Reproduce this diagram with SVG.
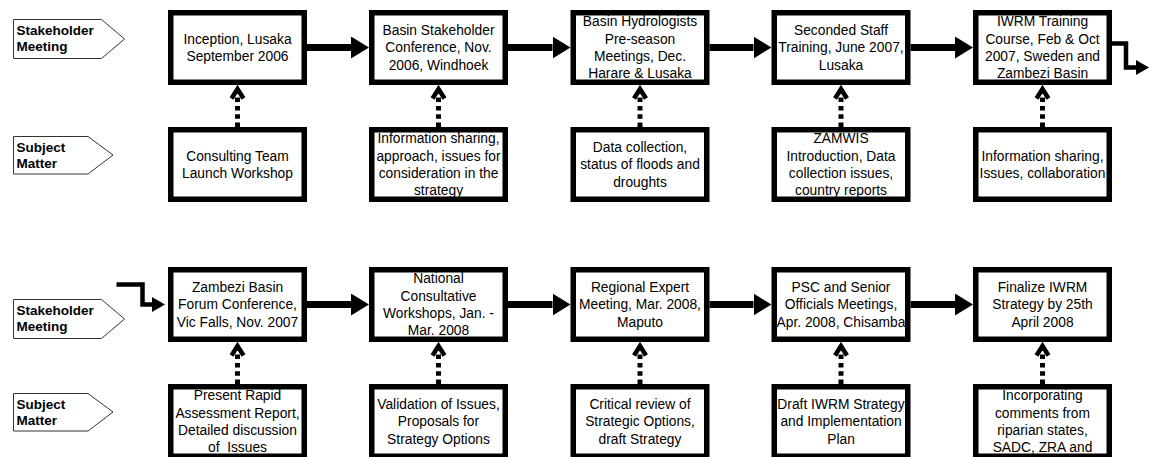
<svg xmlns="http://www.w3.org/2000/svg" width="1149" height="457" viewBox="0 0 1149 457">
<style>
.box{fill:#fff;stroke:#000;stroke-width:5.5}
.t{font-family:"Liberation Sans",Arial,sans-serif;font-size:13.8px;fill:#000;text-anchor:middle}
.lbl{fill:#fff;stroke:#333;stroke-width:1}
.lt{font-family:"Liberation Sans",Arial,sans-serif;font-size:13.5px;font-weight:bold;fill:#000}
.flow{stroke:#000;stroke-width:7;fill:none;marker-end:url(#big)}
.elbow{stroke:#000;stroke-width:4.5;fill:none;stroke-linejoin:miter;marker-end:url(#small)}
.dot{stroke:#000;stroke-width:5;stroke-dasharray:4.5 3.8;fill:none}
.chev{stroke:#000;stroke-width:4.5;fill:none;stroke-linejoin:miter}
</style>
<defs>
<marker id="big" markerUnits="userSpaceOnUse" viewBox="0 0 18 22" refX="0" refY="11" markerWidth="18" markerHeight="22" orient="auto"><path d="M0,0 L18,11 L0,22 Z" fill="#000"/></marker>
<marker id="small" markerUnits="userSpaceOnUse" viewBox="0 0 13 15" refX="0" refY="7.5" markerWidth="13" markerHeight="15" orient="auto"><path d="M0,0 L13,7.5 L0,15 Z" fill="#000"/></marker>
</defs>
<rect width="1149" height="457" fill="#fff"/>

<g id="label-stakeholder-1"><polygon class="lbl" points="13.5,19.5 101.5,19.5 124.5,39 101.5,58.5 13.5,58.5"/><text class="lt"><tspan x="16.5" y="34.5">Stakeholder</tspan><tspan x="16.5" y="51">Meeting</tspan></text></g>
<g id="label-subject-1"><polygon class="lbl" points="13.5,136.5 88,136.5 113,155 88,174 13.5,174"/><text class="lt"><tspan x="16.5" y="151.5">Subject</tspan><tspan x="16.5" y="168">Matter</tspan></text></g>
<g id="label-stakeholder-2"><polygon class="lbl" points="13.5,299.5 101.5,299.5 124.5,319 101.5,338.5 13.5,338.5"/><text class="lt"><tspan x="16.5" y="314.5">Stakeholder</tspan><tspan x="16.5" y="331">Meeting</tspan></text></g>
<g id="label-subject-2"><polygon class="lbl" points="13.5,393.5 88,393.5 113,412 88,431 13.5,431"/><text class="lt"><tspan x="16.5" y="408.5">Subject</tspan><tspan x="16.5" y="425">Matter</tspan></text></g>

<g id="connectors">
<line class="flow" x1="307" y1="47.5" x2="351" y2="47.5"/>
<line class="flow" x1="508" y1="47.5" x2="552.5" y2="47.5"/>
<line class="flow" x1="709.5" y1="47.5" x2="753.5" y2="47.5"/>
<line class="flow" x1="910.5" y1="47.5" x2="955" y2="47.5"/>
<path class="elbow" d="M1112,43.5 H1126 V67.5 H1136"/>
<path class="elbow" d="M116.5,284.5 H142.5 V304.5 H152"/>
<line class="flow" x1="307" y1="304.5" x2="351" y2="304.5"/>
<line class="flow" x1="508" y1="304.5" x2="552.5" y2="304.5"/>
<line class="flow" x1="709.5" y1="304.5" x2="753.5" y2="304.5"/>
<line class="flow" x1="910.5" y1="304.5" x2="955" y2="304.5"/>
<line class="dot" x1="237.5" y1="127" x2="237.5" y2="91"/><polyline class="chev" points="231.5,98.5 237.5,89 243.5,98.5"/>
<line class="dot" x1="438.5" y1="127" x2="438.5" y2="91"/><polyline class="chev" points="432.5,98.5 438.5,89 444.5,98.5"/>
<line class="dot" x1="640" y1="127" x2="640" y2="91"/><polyline class="chev" points="634,98.5 640,89 646,98.5"/>
<line class="dot" x1="841" y1="127" x2="841" y2="91"/><polyline class="chev" points="835,98.5 841,89 847,98.5"/>
<line class="dot" x1="1042.5" y1="127" x2="1042.5" y2="91"/><polyline class="chev" points="1036.5,98.5 1042.5,89 1048.5,98.5"/>
<line class="dot" x1="237.5" y1="384" x2="237.5" y2="348"/><polyline class="chev" points="231.5,355.5 237.5,346 243.5,355.5"/>
<line class="dot" x1="438.5" y1="384" x2="438.5" y2="348"/><polyline class="chev" points="432.5,355.5 438.5,346 444.5,355.5"/>
<line class="dot" x1="640" y1="384" x2="640" y2="348"/><polyline class="chev" points="634,355.5 640,346 646,355.5"/>
<line class="dot" x1="841" y1="384" x2="841" y2="348"/><polyline class="chev" points="835,355.5 841,346 847,355.5"/>
<line class="dot" x1="1042.5" y1="384" x2="1042.5" y2="348"/><polyline class="chev" points="1036.5,355.5 1042.5,346 1048.5,355.5"/>
</g>

<g id="meeting-1"><rect class="box" x="170.75" y="12.75" width="133.5" height="69.5"/><text class="t"><tspan x="237.5" y="43.5">Inception, Lusaka</tspan><tspan x="237.5" y="60.9">September 2006</tspan></text></g>
<g id="meeting-2"><rect class="box" x="371.75" y="12.75" width="133.5" height="69.5"/><text class="t"><tspan x="438.5" y="34.8">Basin Stakeholder</tspan><tspan x="438.5" y="52.2">Conference, Nov.</tspan><tspan x="438.5" y="69.6">2006, Windhoek</tspan></text></g>
<g id="meeting-3"><rect class="box" x="573.25" y="12.75" width="133.5" height="69.5"/><text class="t"><tspan x="640" y="26.1">Basin Hydrologists</tspan><tspan x="640" y="43.5">Pre-season</tspan><tspan x="640" y="60.9">Meetings, Dec.</tspan><tspan x="640" y="78.3">Harare &amp; Lusaka</tspan></text></g>
<g id="meeting-4"><rect class="box" x="774.25" y="12.75" width="133.5" height="69.5"/><text class="t"><tspan x="841" y="34.8">Seconded Staff</tspan><tspan x="841" y="52.2">Training, June 2007,</tspan><tspan x="841" y="69.6">Lusaka</tspan></text></g>
<g id="meeting-5"><rect class="box" x="975.75" y="12.75" width="133.5" height="69.5"/><text class="t"><tspan x="1042.5" y="26.1">IWRM Training</tspan><tspan x="1042.5" y="43.5">Course, Feb &amp; Oct</tspan><tspan x="1042.5" y="60.9">2007, Sweden and</tspan><tspan x="1042.5" y="78.3">Zambezi Basin</tspan></text></g>

<g id="subject-1"><rect class="box" x="170.75" y="129.75" width="133.5" height="69.5"/><text class="t"><tspan x="237.5" y="160.5">Consulting Team</tspan><tspan x="237.5" y="177.9">Launch Workshop</tspan></text></g>
<g id="subject-2"><rect class="box" x="371.75" y="129.75" width="133.5" height="69.5"/><text class="t"><tspan x="438.5" y="143.1">Information sharing,</tspan><tspan x="438.5" y="160.5">approach, issues for</tspan><tspan x="438.5" y="177.9">consideration in the</tspan><tspan x="438.5" y="195.3">strategy</tspan></text></g>
<g id="subject-3"><rect class="box" x="573.25" y="129.75" width="133.5" height="69.5"/><text class="t"><tspan x="640" y="151.8">Data collection,</tspan><tspan x="640" y="169.2">status of floods and</tspan><tspan x="640" y="186.6">droughts</tspan></text></g>
<g id="subject-4"><rect class="box" x="774.25" y="129.75" width="133.5" height="69.5"/><text class="t"><tspan x="841" y="143.1">ZAMWIS</tspan><tspan x="841" y="160.5">Introduction, Data</tspan><tspan x="841" y="177.9">collection issues,</tspan><tspan x="841" y="195.3">country reports</tspan></text></g>
<g id="subject-5"><rect class="box" x="975.75" y="129.75" width="133.5" height="69.5"/><text class="t"><tspan x="1042.5" y="160.5">Information sharing,</tspan><tspan x="1042.5" y="177.9">Issues, collaboration</tspan></text></g>

<g id="meeting-6"><rect class="box" x="170.75" y="269.75" width="133.5" height="69.5"/><text class="t"><tspan x="237.5" y="291.8">Zambezi Basin</tspan><tspan x="237.5" y="309.2">Forum Conference,</tspan><tspan x="237.5" y="326.6">Vic Falls, Nov. 2007</tspan></text></g>
<g id="meeting-7"><rect class="box" x="371.75" y="269.75" width="133.5" height="69.5"/><text class="t"><tspan x="438.5" y="283.1">National</tspan><tspan x="438.5" y="300.5">Consultative</tspan><tspan x="438.5" y="317.9">Workshops, Jan. -</tspan><tspan x="438.5" y="335.3">Mar. 2008</tspan></text></g>
<g id="meeting-8"><rect class="box" x="573.25" y="269.75" width="133.5" height="69.5"/><text class="t"><tspan x="640" y="291.8">Regional Expert</tspan><tspan x="640" y="309.2">Meeting, Mar. 2008,</tspan><tspan x="640" y="326.6">Maputo</tspan></text></g>
<g id="meeting-9"><rect class="box" x="774.25" y="269.75" width="133.5" height="69.5"/><text class="t"><tspan x="841" y="291.8">PSC and Senior</tspan><tspan x="841" y="309.2">Officials Meetings,</tspan><tspan x="841" y="326.6">Apr. 2008, Chisamba</tspan></text></g>
<g id="meeting-10"><rect class="box" x="975.75" y="269.75" width="133.5" height="69.5"/><text class="t"><tspan x="1042.5" y="291.8">Finalize IWRM</tspan><tspan x="1042.5" y="309.2">Strategy by 25th</tspan><tspan x="1042.5" y="326.6">April 2008</tspan></text></g>

<g id="subject-6"><rect class="box" x="170.75" y="386.75" width="133.5" height="69.5"/><text class="t"><tspan x="237.5" y="400.1">Present Rapid</tspan><tspan x="237.5" y="417.5">Assessment Report,</tspan><tspan x="237.5" y="434.9">Detailed discussion</tspan><tspan x="237.5" y="452.3" xml:space="preserve">of  Issues</tspan></text></g>
<g id="subject-7"><rect class="box" x="371.75" y="386.75" width="133.5" height="69.5"/><text class="t"><tspan x="438.5" y="408.8">Validation of Issues,</tspan><tspan x="438.5" y="426.2">Proposals for</tspan><tspan x="438.5" y="443.6">Strategy Options</tspan></text></g>
<g id="subject-8"><rect class="box" x="573.25" y="386.75" width="133.5" height="69.5"/><text class="t"><tspan x="640" y="408.8">Critical review of</tspan><tspan x="640" y="426.2">Strategic Options,</tspan><tspan x="640" y="443.6">draft Strategy</tspan></text></g>
<g id="subject-9"><rect class="box" x="774.25" y="386.75" width="133.5" height="69.5"/><text class="t"><tspan x="841" y="408.8">Draft IWRM Strategy</tspan><tspan x="841" y="426.2">and Implementation</tspan><tspan x="841" y="443.6">Plan</tspan></text></g>
<g id="subject-10"><rect class="box" x="975.75" y="386.75" width="133.5" height="69.5"/><text class="t"><tspan x="1042.5" y="400.1">Incorporating</tspan><tspan x="1042.5" y="417.5">comments from</tspan><tspan x="1042.5" y="434.9">riparian states,</tspan><tspan x="1042.5" y="452.3">SADC, ZRA and</tspan></text></g>
</svg>
